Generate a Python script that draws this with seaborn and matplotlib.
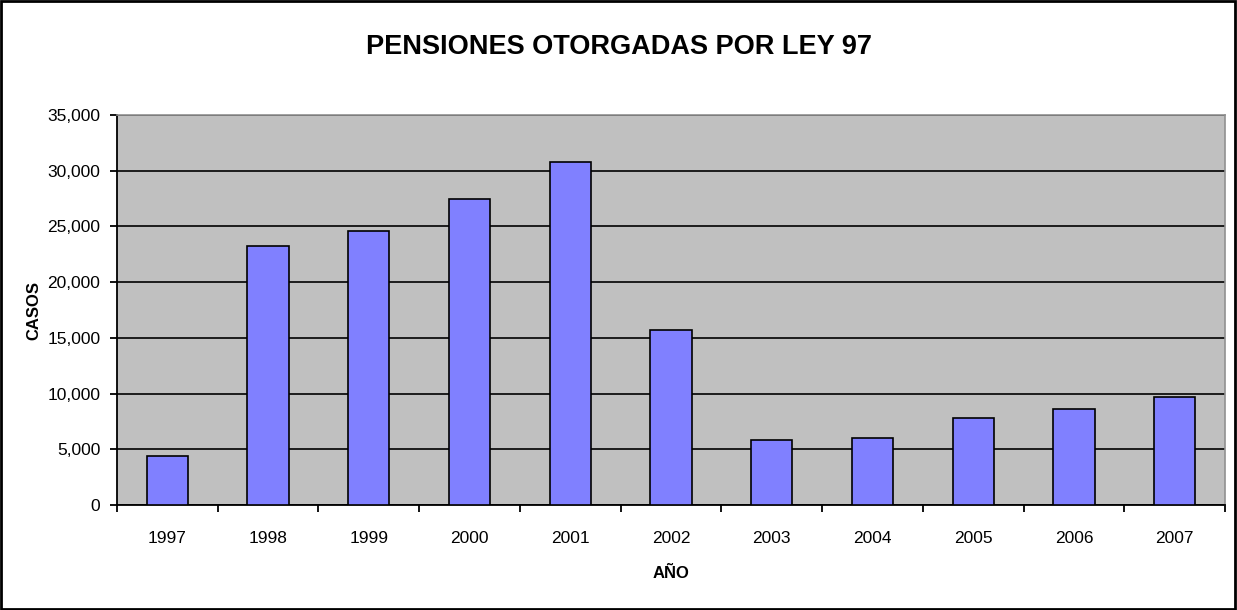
import matplotlib
matplotlib.use('Agg')
import matplotlib.pyplot as plt
import matplotlib.ticker as mticker
from matplotlib.patches import Rectangle
import seaborn as sns
import pandas as pd
import numpy as np

years = ['1997', '1998', '1999', '2000', '2001', '2002',
         '2003', '2004', '2005', '2006', '2007']
casos = [4420, 23260, 24550, 27420, 30790, 15720,
         5860, 6040, 7830, 8580, 9690]
y_ticks = [0, 5000, 10000, 15000, 20000, 25000, 30000, 35000]

df = pd.DataFrame({'year': years, 'casos': casos})

sns.set_style('white')
plt.rcParams['font.family'] = ['Liberation Sans', 'DejaVu Sans']
plt.rcParams['text.color'] = 'black'
plt.rcParams['axes.labelcolor'] = 'black'
plt.rcParams['xtick.color'] = 'black'
plt.rcParams['ytick.color'] = 'black'

fig = plt.figure(figsize=(12.37, 6.10), dpi=100)
ax = fig.add_axes([117/1237, 105/610, 1108/1237, 390/610])
ax.set_facecolor('#C0C0C0')

sns.barplot(data=df, x='year', y='casos', color='#8080FF', saturation=1,
            edgecolor='black', linewidth=1.2, width=0.41, ax=ax, zorder=3)

ax.set_ylim(0, 35000)
ax.set_xlim(-0.5, len(years) - 0.5)
ax.set_yticks(y_ticks)
ax.yaxis.set_major_formatter(mticker.FuncFormatter(lambda v, p: f'{int(v):,}'))
ax.grid(axis='y', color='black', linewidth=1.2, zorder=1)
ax.set_axisbelow(True)

# category boundaries as ticks
ax.set_xticks(np.arange(-0.5, len(years)), minor=True)
ax.tick_params(axis='x', which='major', length=0, pad=19, labelsize=12.5)
ax.tick_params(axis='x', which='minor', length=5, width=1.3, color='black', direction='out', bottom=True)
ax.tick_params(axis='y', length=5, width=1.3, color='black', direction='out', left=True,
               pad=7, labelsize=12.5)

for side in ['left', 'bottom']:
    ax.spines[side].set_color('black')
    ax.spines[side].set_linewidth(1.3)
for side in ['top', 'right']:
    ax.spines[side].set_color('#909090')
    ax.spines[side].set_linewidth(1.2)

ax.set_xlabel('AÑO', fontsize=12, fontweight='bold', labelpad=14)
ax.set_ylabel('CASOS', fontsize=12, fontweight='bold', labelpad=4)

fig.text(0.5, 1 - 47/610, 'PENSIONES OTORGADAS POR LEY 97', ha='center', va='center',
         fontsize=19.5, fontweight='bold')

fig.patches.append(Rectangle((0.001, 0.002), 0.997, 0.996, transform=fig.transFigure,
                             fill=False, edgecolor='black', linewidth=2))

fig.savefig('out.png', dpi=100)
